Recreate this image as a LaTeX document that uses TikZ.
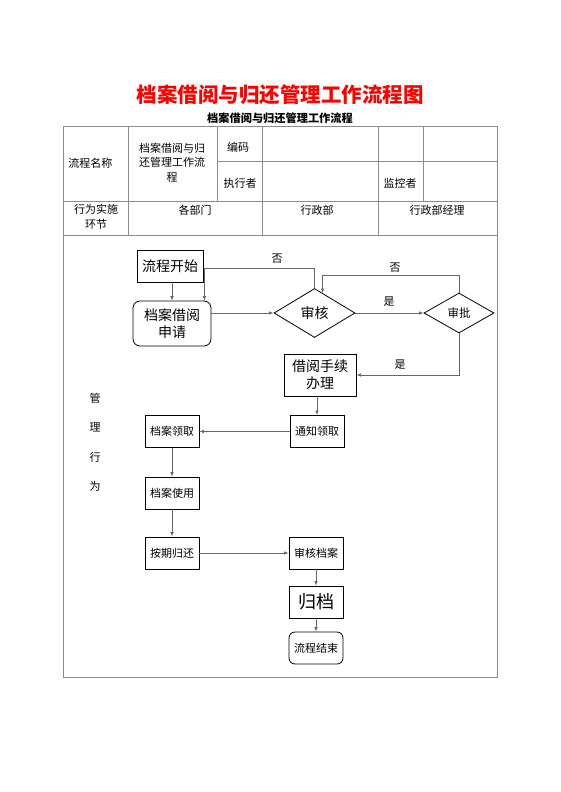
\documentclass[tikz,border=0pt]{standalone}
\usepackage{fontspec}
\setmainfont{Noto Sans CJK SC}
\usetikzlibrary{shapes.geometric,calc}

\def\tabL{63}
\def\tabR{497}

\begin{document}
\begin{tikzpicture}[x=1pt,y=-1pt,->,>=latex,line width=0.2mm,draw=black!60]
    \tikzstyle{cell}=[-,draw=black!45,line width=0.9pt]
    \tikzstyle{txt}=[font=\fontsize{11}{14.5}\selectfont,inner sep=0pt,align=center]
    \tikzstyle{box}=[rectangle,draw=black,line width=0.8pt,inner sep=0pt,align=center]
    \tikzstyle{big box}=[box,font=\fontsize{14}{17}\selectfont]
    \tikzstyle{small box}=[box,font=\fontsize{11}{14}\selectfont,minimum width=54pt,minimum height=32pt]
    \tikzstyle{decision}=[diamond,draw=black,line width=0.8pt,inner sep=0pt]
    \tikzstyle{annot}=[font=\fontsize{11}{13}\selectfont,inner sep=0pt]

    \useasboundingbox (0,0) rectangle (560,792);

    % Title lines
    \node[font=\fontsize{20.5}{24}\selectfont\bfseries,text=red,inner sep=0pt] (title) at (280,95) {档案借阅与归还管理工作流程图};
    \node[txt,font=\fontsize{11.2}{13}\selectfont\bfseries] (subtitle) at (280,118) {档案借阅与归还管理工作流程};

    % Draw the table grid
    \draw[cell] (\tabL,126) rectangle (\tabR,677);
    \draw[cell] (217,161) -- (\tabR,161);
    \draw[cell] (\tabL,201) -- (\tabR,201);
    \draw[cell] (\tabL,235) -- (\tabR,235);
    \draw[cell] (128,126) -- (128,235);
    \draw[cell] (217,126) -- (217,201);
    \draw[cell] (262,126) -- (262,235);
    \draw[cell] (378,126) -- (378,235);
    \draw[cell] (423,126) -- (423,201);

    % Table texts
    \node[txt,anchor=west] (name-l) at (68,163) {流程名称};
    \node[txt] (name) at (172,162.5) {档案借阅与归\\还管理工作流\\程};
    \node[txt] (code) at (238,147) {编码};
    \node[txt] (exec) at (240,183) {执行者};
    \node[txt] (watch) at (400,183) {监控者};
    \node[txt] (step-l) at (96,217) {行为实施\\环节};
    \node[txt] (dept) at (195,210) {各部门};
    \node[txt] (admin) at (317,210) {行政部};
    \node[txt] (boss) at (437,210) {行政部经理};

    % Side label
    \node[annot] (m-1) at (95,398) {管};
    \node[annot] (m-2) at (95,427.5) {理};
    \node[annot] (m-3) at (95,457) {行};
    \node[annot] (m-4) at (95,486.5) {为};

    % Draw the flow nodes
    \node[big box,minimum width=66pt,minimum height=32pt] (start) at (170,266) {流程开始};
    \node[big box,rounded corners=7pt,minimum width=78pt,minimum height=45pt] (apply) at (172,323.5) {档案借阅\\申请};
    \node[decision,font=\fontsize{14}{17}\selectfont,minimum width=81pt,minimum height=49pt] (check) at (314.5,313) {审核};
    \node[decision,font=\fontsize{11.5}{14}\selectfont,minimum width=70pt,minimum height=40pt] (approve) at (459,313) {审批};
    \node[big box,minimum width=72pt,minimum height=42pt] (proc) at (320,375) {借阅手续\\办理};
    \node[small box] (notify) at (317,431.5) {通知领取};
    \node[small box] (take) at (172,431.5) {档案领取};
    \node[small box] (use) at (172,493) {档案使用};
    \node[small box] (back) at (172,553) {按期归还};
    \node[small box] (review) at (316,553) {审核档案};
    \node[box,font=\fontsize{18}{20}\selectfont,minimum width=54pt,minimum height=32pt] (file) at (316,602) {归档};
    \node[small box,rounded corners=6pt] (end) at (316,648) {流程结束};

    % Connect the flow nodes
    \path (start.south -| apply.north) edge (apply.north);
    \path (apply.east |- check.west) edge (check.west);
    \path (check) edge (approve);
    \draw (check.north) -- ++(0,-20) -| ([xshift=-7pt]apply.north east);
    \draw (approve.north) -- ++(0,-17) -| ($(check.north)!0.2!(check.east)$);
    \draw (approve.south) |- (proc.east);
    \path (proc.south -| notify.north) edge (notify.north);
    \path (notify) edge (take);
    \path (take) edge (use);
    \path (use) edge (back);
    \path (back) edge (review);
    \path (review) edge (file);
    \path (file) edge (end);

    % Annotate the branches
    \node[annot] (no-1) at (277,259) {否};
    \node[annot] (no-2) at (395,268) {否};
    \node[annot] (yes-1) at (389,302) {是};
    \node[annot] (yes-2) at (400,365) {是};
\end{tikzpicture}
\end{document}
